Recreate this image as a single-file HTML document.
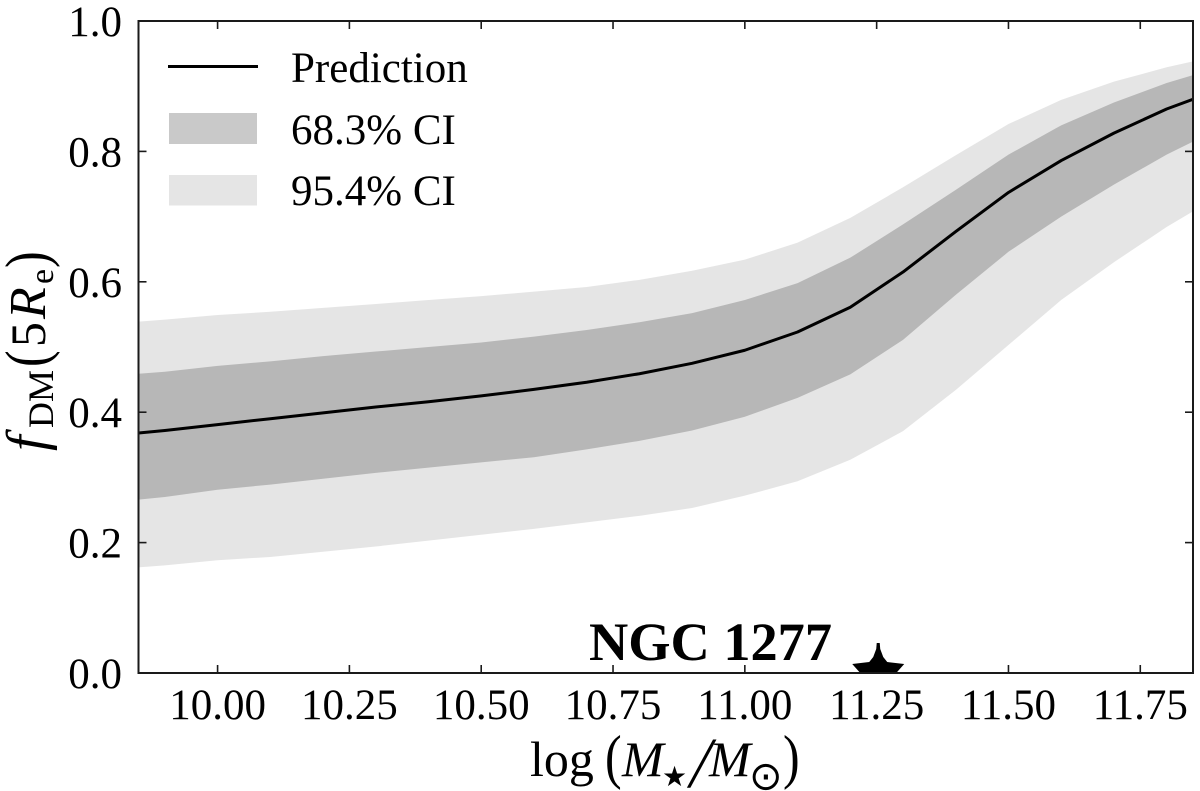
<!DOCTYPE html>
<html lang="en">
<head>
<meta charset="utf-8">
<title>Dark matter fraction versus stellar mass</title>
<style>
html,body{margin:0;padding:0;background:#fff;}
svg{display:block;}
text{font-family:"Liberation Serif","DejaVu Serif",serif;fill:#000;}
</style>
</head>
<body>
<svg id="chart" xmlns="http://www.w3.org/2000/svg" width="1200" height="791" viewBox="0 0 1200 791">
  <defs>
    <clipPath id="plot-clip"><rect x="138.5" y="21" width="1054.5" height="652"></rect></clipPath>
  </defs>
  <g id="plot-marks" clip-path="url(#plot-clip)"></g>
  <g id="ticks"></g>
  <g id="marker-layer" clip-path="url(#plot-clip)"></g>
  <rect id="frame" x="138.5" y="21" width="1054.5" height="652" fill="none" stroke="#1a1a1a" stroke-width="2"></rect>
  <g id="tick-labels"></g>

  <g>
    <line x1="168" y1="66.5" x2="258" y2="66.5" stroke="#000" stroke-width="3"></line>
    <text x="291" y="82" font-size="43">Prediction</text>
    <rect x="169" y="113" width="88" height="31" fill="#c9c9c9"></rect>
    <text x="291" y="144" font-size="43">68.3% CI</text>
    <rect x="169" y="175" width="88" height="30.5" fill="#e5e5e5"></rect>
    <text x="291" y="205" font-size="43">95.4% CI</text>
  </g>

  <text x="589" y="660" font-size="54" font-weight="bold" textLength="243" lengthAdjust="spacingAndGlyphs">NGC 1277</text>

  <g>
    <text x="530" y="776" font-size="50">log</text>
    <text transform="translate(605,777) scale(1,1.2)" font-size="50">(</text>
    <text x="622" y="776" font-size="50" font-style="italic">M</text>
    <text x="662" y="786" font-size="28" style="font-family:'DejaVu Sans',sans-serif">★</text>
    <text transform="translate(687,787) skewX(-11.3)" font-size="72">/</text>
    <text x="709" y="776" font-size="50" font-style="italic">M</text>
    <text x="749" y="789.5" font-size="40" style="font-family:'DejaVu Sans',sans-serif">⊙</text>
    <text transform="translate(783,777) scale(1,1.2)" font-size="50">)</text>
  </g>

  <g transform="translate(45,0) rotate(-90)">
    <text x="-451" y="0" font-size="56" font-style="italic">f</text>
    <text x="-428" y="8" font-size="36">DM</text>
    <text transform="translate(-367,2) scale(1,1.2)" font-size="50">(</text>
    <text x="-347" y="0" font-size="50">5</text>
    <text x="-319" y="0" font-size="52" font-style="italic">R</text>
    <text x="-284" y="8" font-size="34">e</text>
    <text transform="translate(-268,2) scale(1,1.2)" font-size="50">)</text>
  </g>
</svg>

<script>
const xValues = [9.85, 9.9, 10.0, 10.1, 10.2, 10.3, 10.4, 10.5, 10.6, 10.7, 10.8, 10.9, 11.0, 11.1, 11.2, 11.3, 11.4, 11.5, 11.6, 11.7, 11.8, 11.85];
const predictionValues = [0.368, 0.372, 0.381, 0.390, 0.399, 0.408, 0.416, 0.425, 0.435, 0.446, 0.459, 0.475, 0.495, 0.523, 0.561, 0.615, 0.677, 0.737, 0.786, 0.828, 0.865, 0.880];
const ci68Upper = [0.459, 0.462, 0.471, 0.478, 0.486, 0.493, 0.500, 0.507, 0.516, 0.526, 0.538, 0.552, 0.572, 0.598, 0.637, 0.688, 0.741, 0.795, 0.840, 0.875, 0.905, 0.917];
const ci68Lower = [0.266, 0.270, 0.281, 0.289, 0.298, 0.307, 0.315, 0.323, 0.331, 0.343, 0.356, 0.372, 0.393, 0.422, 0.458, 0.511, 0.580, 0.646, 0.700, 0.749, 0.795, 0.815];
const ci95Upper = [0.539, 0.542, 0.549, 0.554, 0.560, 0.566, 0.572, 0.578, 0.585, 0.592, 0.603, 0.617, 0.634, 0.660, 0.698, 0.745, 0.794, 0.842, 0.879, 0.907, 0.929, 0.938];
const ci95Lower = [0.162, 0.165, 0.173, 0.178, 0.186, 0.194, 0.203, 0.212, 0.221, 0.231, 0.241, 0.253, 0.272, 0.294, 0.327, 0.371, 0.434, 0.503, 0.572, 0.630, 0.684, 0.708];
const xTickValues = [10.0, 10.25, 10.5, 10.75, 11.0, 11.25, 11.5, 11.75];
const xTickLabels = ["10.00", "10.25", "10.50", "10.75", "11.00", "11.25", "11.50", "11.75"];
const yTickValues = [0, 0.2, 0.4, 0.6, 0.8, 1.0];
const yTickLabels = ["0.0", "0.2", "0.4", "0.6", "0.8", "1.0"];
const ngcMass = [11.253];
const ngcFraction = [0];

const SVG_NS = "http://www.w3.org/2000/svg";
const PLOT = { left: 138.5, right: 1193, top: 21, bottom: 673 };
const X_MIN = 9.85, X_MAX = 11.85, Y_MIN = 0, Y_MAX = 1;
function xScale(v) { return PLOT.left + (v - X_MIN) / (X_MAX - X_MIN) * (PLOT.right - PLOT.left); }
function yScale(v) { return PLOT.bottom - (v - Y_MIN) / (Y_MAX - Y_MIN) * (PLOT.bottom - PLOT.top); }

const marks = document.getElementById("plot-marks");
const ticks = document.getElementById("ticks");
const labels = document.getElementById("tick-labels");
const markerLayer = document.getElementById("marker-layer");

function make(tag, attrs, parent) {
  const el = document.createElementNS(SVG_NS, tag);
  for (const k in attrs) el.setAttribute(k, attrs[k]);
  parent.appendChild(el);
  return el;
}
function bandPoints(upper, lower) {
  const top = xValues.map((x, i) => xScale(x).toFixed(2) + "," + yScale(upper[i]).toFixed(2));
  const bottom = xValues.map((x, i) => xScale(x).toFixed(2) + "," + yScale(lower[i]).toFixed(2)).reverse();
  return top.concat(bottom).join(" ");
}

const band95 = make("polygon", { points: bandPoints(ci95Upper, ci95Lower), fill: "#000", "fill-opacity": "0.102" }, marks);



const band68 = make("polygon", { points: bandPoints(ci68Upper, ci68Lower), fill: "#000", "fill-opacity": "0.2" }, marks);



const predictionLine = make("polyline", {
  points: xValues.map((x, i) => xScale(x).toFixed(2) + "," + yScale(predictionValues[i]).toFixed(2)).join(" "),
  fill: "none", stroke: "#000", "stroke-width": "3", "stroke-linejoin": "round"
}, marks);



const starShape = [[-1.5,-30],[1.5,-30],[2,-24],[5,-16],[9,-11],[26,-9],[18,0],[14,10],[-14,10],[-18,0],[-26,-9],[-9,-11],[-5,-16],[-2,-24]];
const starX = xScale(ngcMass[0]);
const starY = yScale(ngcFraction[0]);
const star = make("polygon", {
  points: starShape.map(p => (starX + p[0]).toFixed(2) + "," + (starY + p[1]).toFixed(2)).join(" "),
  fill: "#000"
}, markerLayer);



const TICK_LEN = 8;
xTickValues.forEach((v, i) => {
  const x = xScale(v);
  const bottomTick = make("line", { x1: x, x2: x, y1: PLOT.bottom, y2: PLOT.bottom - TICK_LEN, stroke: "#1a1a1a", "stroke-width": "1.6" }, ticks);
  
  
  const topTick = make("line", { x1: x, x2: x, y1: PLOT.top, y2: PLOT.top + TICK_LEN, stroke: "#1a1a1a", "stroke-width": "1.6" }, ticks);
  
  
  const label = make("text", { x: x, y: 719, "font-size": "43", "text-anchor": "middle" }, labels);
  
  
  label.textContent = xTickLabels[i];
});
yTickValues.forEach((v, i) => {
  const y = yScale(v);
  const leftTick = make("line", { x1: PLOT.left, x2: PLOT.left + TICK_LEN, y1: y, y2: y, stroke: "#1a1a1a", "stroke-width": "1.6" }, ticks);
  
  
  const rightTick = make("line", { x1: PLOT.right, x2: PLOT.right - TICK_LEN, y1: y, y2: y, stroke: "#1a1a1a", "stroke-width": "1.6" }, ticks);
  
  
  const label = make("text", { x: 122, y: y + 15, "font-size": "43", "text-anchor": "end" }, labels);
  
  
  label.textContent = yTickLabels[i];
});
</script>
</body>
</html>
